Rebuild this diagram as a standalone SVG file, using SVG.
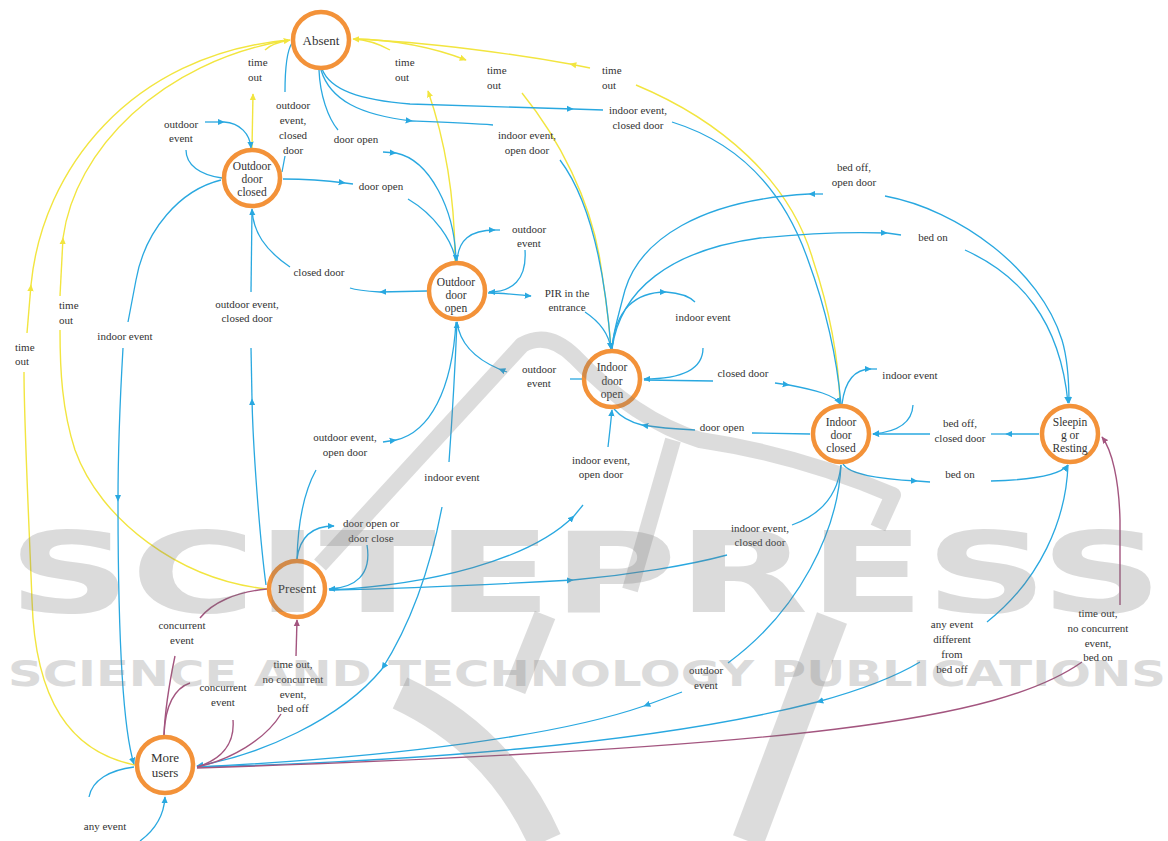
<svg xmlns="http://www.w3.org/2000/svg" width="1168" height="841" viewBox="0 0 1168 841">
<defs>
<style>
.b{fill:none;stroke:#29a8e0;stroke-width:1.3}
.y{fill:none;stroke:#f2e53f;stroke-width:1.4}
.p{fill:none;stroke:#a3557f;stroke-width:1.4}
.mb{marker-end:url(#ab)}
.my{marker-end:url(#ay)}
.mp{marker-end:url(#ap)}
.node circle{fill:#fff;stroke:#f39239;stroke-width:4.5}
.nt{font-family:"Liberation Serif","Times New Roman",serif;font-size:11.5px;fill:#333;text-anchor:middle}
.big{font-size:13px}
.lt{font-family:"Liberation Serif","Times New Roman",serif;font-size:11px;fill:#333}
.c{text-anchor:middle}
.wm{fill:#777;opacity:0.26}
.ws{fill:none;stroke:#777;opacity:0.26;stroke-linejoin:round}
</style>
<marker id="ab" viewBox="0 0 10 10" refX="9" refY="5" markerWidth="7" markerHeight="7" markerUnits="userSpaceOnUse" orient="auto"><path d="M0,0.5L10,5L0,9.5z" fill="#29a8e0"/></marker>
<marker id="ay" viewBox="0 0 10 10" refX="9" refY="5" markerWidth="7" markerHeight="7" markerUnits="userSpaceOnUse" orient="auto"><path d="M0,0.5L10,5L0,9.5z" fill="#f2e53f"/></marker>
<marker id="ap" viewBox="0 0 10 10" refX="9" refY="5" markerWidth="7" markerHeight="7" markerUnits="userSpaceOnUse" orient="auto"><path d="M0,0.5L10,5L0,9.5z" fill="#a3557f"/></marker>
</defs>
<rect width="1168" height="841" fill="#fff"/>

<g id="connectors">
<!-- yellow time out -->
<path class="y" d="M135,765 C70,752 35,700 32,600 C28,500 24,420 24,372"/>
<path class="y my" d="M27,333 L31,285"/>
<path class="y" d="M31,285 C42,170 130,55 288,40"/>
<path class="y" d="M267,589 C180,580 100,520 75,450 C62,410 60,370 60,330"/>
<path class="y my" d="M60,296 L63,238"/>
<path class="y" d="M63,238 C75,150 160,62 288,40"/>
<path class="y my" d="M252,148 L253,94"/>
<path class="y my" d="M265,50 Q272,43 290,40"/>
<path class="y my" d="M455,262 C455,200 445,140 428,91"/>
<path class="y my" d="M390,50 Q372,40 353,39"/>
<path class="y my" d="M354,39 C400,40 440,50 466,60"/>
<path class="y" d="M522,93 C560,140 590,200 600,260 C606,300 610,330 611,349"/>
<path class="y my" d="M590,68 L570,64"/>
<path class="y" d="M570,64 C520,55 430,42 354,39"/>
<path class="y" d="M636,85 C720,120 790,180 813,260 C833,320 839,370 840,404"/>

<!-- blue -->
<path class="b" d="M285,92 C285,70 286,52 292,43"/>
<path class="b" d="M285,156 L282,172"/>
<path class="b" d="M222,178 C200,175 186,165 186,150"/>
<path class="b mb" d="M205,122 L224,122"/>
<path class="b mb" d="M224,122 C240,123 250,134 251,148"/>
<path class="b" d="M319,70 C320,95 328,118 338,130"/>
<path class="b mb" d="M383,152 L396,153"/>
<path class="b mb" d="M396,153 C430,160 455,210 456,261"/>
<path class="b mb" d="M283,179 C310,179 330,181 345,183"/>
<path class="b" d="M345,183 L353,184"/>
<path class="b" d="M408,199 C435,215 452,240 456,261"/>
<path class="b mb" d="M321,70 C330,100 360,115 412,121"/>
<path class="b" d="M412,121 C440,122 470,123 493,125"/>
<path class="b mb" d="M560,160 C590,200 605,270 611,349"/>
<path class="b mb" d="M322,69 C330,90 360,100 410,104 C470,106 530,108 573,109"/>
<path class="b" d="M573,109 L603,110"/>
<path class="b" d="M672,122 C730,140 780,180 808,260 C830,320 838,370 841,404"/>
<path class="b mb" d="M457,262 C458,240 470,230 495,230"/>
<path class="b" d="M495,230 L500,230"/>
<path class="b mb" d="M525,250 C527,280 512,292 489,292"/>
<path class="b mb" d="M488,293 C505,293 518,295 531,296"/>
<path class="b mb" d="M585,312 C600,322 609,335 611,349"/>
<path class="b mb" d="M427,291 L380,292"/>
<path class="b" d="M380,292 C365,291 356,290 350,288"/>
<path class="b mb" d="M290,267 C265,250 253,232 252,209"/>
<path class="b" d="M251,292 L252,210"/>
<path class="b mb" d="M266,585 C260,540 253,450 252,399"/>
<path class="b" d="M252,399 L251,348"/>
<path class="b" d="M221,180 C180,190 145,230 136,280 L128,322"/>
<path class="b mb" d="M123,348 C120,400 118,450 118,501"/>
<path class="b mb" d="M118,501 C118,600 120,720 134,764"/>
<path class="b" d="M134,767 C110,770 92,780 89,797"/>
<path class="b mb" d="M140,841 C155,830 164,815 165,797"/>
<path class="b mb" d="M442,507 C430,570 410,625 382,669"/>
<path class="b mb" d="M382,669 C340,720 260,755 197,766"/>
<path class="b mb" d="M449,462 C452,420 455,370 457,322"/>
<path class="b" d="M297,559 C298,520 305,490 316,470"/>
<path class="b mb" d="M383,442 L396,440"/>
<path class="b" d="M396,440 C430,432 452,390 456,322"/>
<path class="b" d="M582,379 L570,379"/>
<path class="b mb" d="M507,372 L499,369"/>
<path class="b" d="M499,369 C478,360 460,345 457,322"/>
<path class="b mb" d="M297,559 C300,535 315,526 334,526"/>
<path class="b mb" d="M367,545 C372,575 355,588 329,589"/>
<path class="b mb" d="M329,590 C430,585 530,560 574,516"/>
<path class="b" d="M574,516 L583,505"/>
<path class="b mb" d="M608,447 C610,430 611,420 612,410"/>
<path class="b" d="M841,465 C838,495 820,515 792,525"/>
<path class="b mb" d="M330,590 C420,588 500,584 573,580"/>
<path class="b" d="M573,580 C630,575 690,565 727,555"/>
<path class="b mb" d="M612,349 C615,310 635,292 666,292"/>
<path class="b" d="M666,292 C680,293 690,297 695,302"/>
<path class="b mb" d="M703,348 C703,370 680,379 644,379"/>
<path class="b" d="M644,380 L713,381"/>
<path class="b mb" d="M775,383 L789,385"/>
<path class="b mb" d="M789,385 C815,390 835,395 840,404"/>
<path class="b" d="M810,434 L752,433"/>
<path class="b mb" d="M695,430 C675,429 660,428 642,425"/>
<path class="b" d="M642,425 C630,422 620,416 614,409"/>
<path class="b mb" d="M842,404 C845,380 855,369 871,369"/>
<path class="b" d="M871,369 L877,369"/>
<path class="b mb" d="M913,405 C912,425 895,432 873,434"/>
<path class="b mb" d="M1039,434 L1006,434"/>
<path class="b" d="M1006,434 L991,434"/>
<path class="b mb" d="M930,434 L873,434"/>
<path class="b mb" d="M843,464 C850,475 880,479 917,481"/>
<path class="b" d="M917,481 L930,482"/>
<path class="b mb" d="M991,481 C1030,480 1060,475 1068,465"/>
<path class="b mb" d="M885,196 C960,210 1040,270 1062,340 C1068,360 1069,385 1069,403"/>
<path class="b mb" d="M823,194 L809,194"/>
<path class="b" d="M809,194 C700,200 640,240 625,290 C617,320 613,335 612,349"/>
<path class="b mb" d="M612,349 C620,290 670,250 760,238 C820,232 860,232 887,233"/>
<path class="b" d="M887,233 L901,235"/>
<path class="b mb" d="M965,250 C1020,275 1060,320 1068,403"/>
<path class="b" d="M841,465 C838,530 800,610 728,663"/>
<path class="b mb" d="M682,692 L644,706"/>
<path class="b" d="M644,706 C560,735 400,757 197,767"/>
<path class="b" d="M1068,465 C1066,520 1040,580 987,622"/>
<path class="b mb" d="M920,662 C890,680 850,693 817,702"/>
<path class="b" d="M817,702 C650,745 400,762 197,767"/>
<!-- purple -->
<path class="p mp" d="M1120,605 L1120,520 C1119,480 1112,450 1102,437"/>
<path class="p" d="M1082,662 C1000,720 800,748 197,768"/>
<path class="p" d="M197,767 C230,760 265,740 281,714"/>
<path class="p mp" d="M296,656 L297,620"/>
<path class="p" d="M267,589 C235,592 212,603 200,618"/>
<path class="p" d="M175,656 C170,680 165,710 164,735"/>
<path class="p" d="M164,735 C165,705 175,688 190,683"/>
<path class="p" d="M233,720 C235,745 220,760 197,767"/>
</g>

<g id="labels" class="lt">
<text x="248" y="66">time</text><text x="248" y="81">out</text>
<text x="395" y="66">time</text><text x="395" y="81">out</text>
<text x="487" y="74">time</text><text x="487" y="89">out</text>
<text x="602" y="74">time</text><text x="602" y="89">out</text>
<text x="59" y="309">time</text><text x="59" y="324">out</text>
<text x="15" y="351">time</text><text x="15" y="365">out</text>
<g class="c">
<text x="293" y="109">outdoor</text><text x="293" y="124">event,</text><text x="293" y="139">closed</text><text x="293" y="154">door</text>
<text x="181" y="128">outdoor</text><text x="181" y="142">event</text>
<text x="356" y="143">door open</text>
<text x="381" y="190">door open</text>
<text x="638" y="114">indoor event,</text><text x="638" y="129">closed door</text>
<text x="527" y="139">indoor event,</text><text x="527" y="154">open door</text>
<text x="529" y="233">outdoor</text><text x="529" y="247">event</text>
<text x="567" y="297">PIR in the</text><text x="567" y="311">entrance</text>
<text x="319" y="276">closed door</text>
<text x="247" y="308">outdoor event,</text><text x="247" y="322">closed door</text>
<text x="125" y="340">indoor event</text>
<text x="345" y="441">outdoor event,</text><text x="345" y="456">open door</text>
<text x="371" y="527">door open or</text><text x="371" y="542">door close</text>
<text x="452" y="481">indoor event</text>
<text x="539" y="373">outdoor</text><text x="539" y="387">event</text>
<text x="601" y="464">indoor event,</text><text x="601" y="478">open door</text>
<text x="703" y="321">indoor event</text>
<text x="743" y="377">closed door</text>
<text x="722" y="431">door open</text>
<text x="760" y="532">indoor event,</text><text x="760" y="546">closed door</text>
<text x="910" y="379">indoor event</text>
<text x="960" y="427">bed off,</text><text x="960" y="442">closed door</text>
<text x="960" y="478">bed on</text>
<text x="854" y="171">bed off,</text><text x="854" y="186">open door</text>
<text x="933" y="241">bed on</text>
<text x="706" y="674">outdoor</text><text x="706" y="689">event</text>
<text x="952" y="628">any event</text><text x="952" y="643">different</text><text x="952" y="658">from</text><text x="952" y="673">bed off</text>
<text x="1098" y="617">time out,</text><text x="1098" y="632">no concurrent</text><text x="1098" y="647">event,</text><text x="1098" y="661">bed on</text>
<text x="293" y="668">time out,</text><text x="293" y="683">no concurrent</text><text x="293" y="698">event,</text><text x="293" y="712">bed off</text>
<text x="182" y="629">concurrent</text><text x="182" y="644">event</text>
<text x="223" y="691">concurrent</text><text x="223" y="706">event</text>
<text x="105" y="830">any event</text>
</g>
</g>

<g id="absent" class="node"><circle cx="321" cy="40" r="28"/><text class="nt big" x="321" y="45">Absent</text></g>
<g id="outdoor-door-closed" class="node"><circle cx="252" cy="178" r="28"/><text class="nt" x="252" y="170">Outdoor</text><text class="nt" x="252" y="183">door</text><text class="nt" x="252" y="196">closed</text></g>
<g id="outdoor-door-open" class="node"><circle cx="457" cy="291" r="28"/><text class="nt" x="456" y="286">Outdoor</text><text class="nt" x="456" y="299">door</text><text class="nt" x="456" y="312">open</text></g>
<g id="indoor-door-open" class="node"><circle cx="612" cy="379" r="28"/><text class="nt" x="612" y="371">Indoor</text><text class="nt" x="612" y="385">door</text><text class="nt" x="612" y="398">open</text></g>
<g id="indoor-door-closed" class="node"><circle cx="841" cy="434" r="28"/><text class="nt" x="841" y="426">Indoor</text><text class="nt" x="841" y="439">door</text><text class="nt" x="841" y="452">closed</text></g>
<g id="sleeping" class="node"><circle cx="1070" cy="434" r="28"/><text class="nt" x="1070" y="426">Sleepin</text><text class="nt" x="1070" y="439">g or</text><text class="nt" x="1070" y="452">Resting</text></g>
<g id="present" class="node"><circle cx="297" cy="589" r="28"/><text class="nt big" x="297" y="593">Present</text></g>
<g id="more-users" class="node"><circle cx="165" cy="765" r="28"/><text class="nt big" x="165" y="762">More</text><text class="nt big" x="165" y="777">users</text></g>

<g id="watermark">
<path class="ws" stroke-width="16" d="M320,565 L522,345 Q548,330 575,357 Q635,420 700,440 Q800,455 893,495 L878,528"/>
<path class="ws" stroke-width="16" d="M673,440 L630,590"/>
<path class="ws" stroke-width="34" d="M400,693 Q500,740 545,841"/>
<path class="ws" stroke-width="32" d="M832,618 L748,841"/>
<path class="ws" stroke-width="22" d="M545,615 L515,690"/>
<text class="wm" x="8" y="612" font-family="DejaVu Sans,sans-serif" font-weight="bold" font-size="112" textLength="1155" lengthAdjust="spacingAndGlyphs">SCITEPRESS</text>
<text class="wm" x="8" y="686" font-family="DejaVu Sans,sans-serif" font-weight="bold" font-size="36" textLength="1158" lengthAdjust="spacingAndGlyphs">SCIENCE AND TECHNOLOGY PUBLICATIONS</text>
</g>
</svg>
